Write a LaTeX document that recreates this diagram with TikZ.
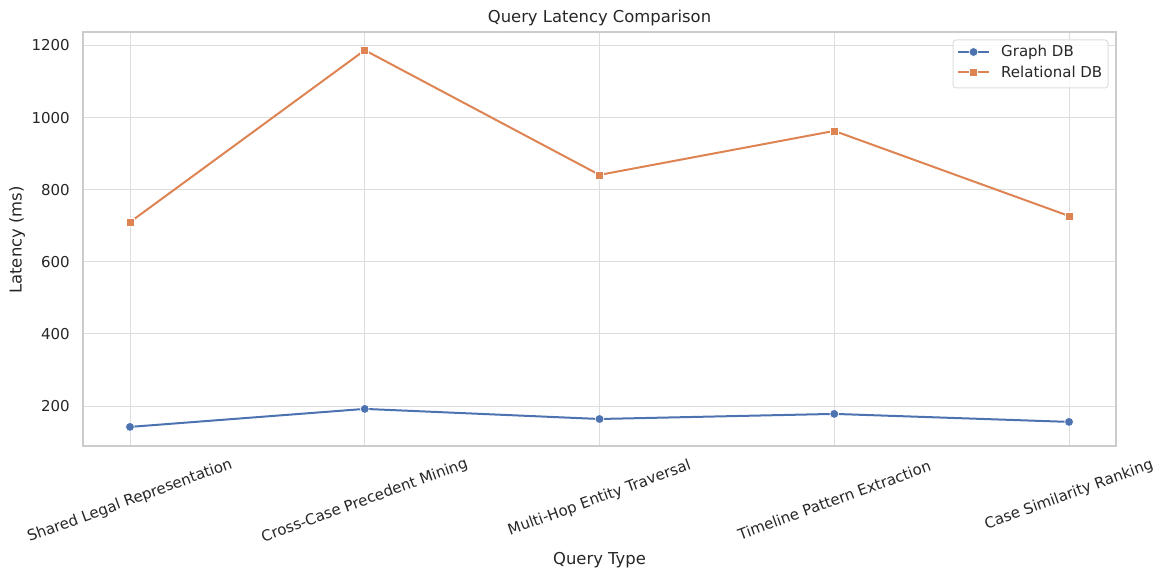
\documentclass[tikz,border=0pt]{standalone}
\usepackage{fontspec}
\setmainfont{DejaVu Sans}
\definecolor{sblue}{HTML}{4C72B0}
\definecolor{sorange}{HTML}{DD8452}
\definecolor{gridc}{HTML}{DDDDDD}
\definecolor{spinec}{HTML}{CCCCCC}
\definecolor{txt}{HTML}{262626}
\tikzset{
  gridline/.style={draw=gridc, line width=1pt},
  spine/.style={draw=spinec, line width=1.4pt},
  ticklab/.style={text=txt, font=\fontsize{15}{17}\selectfont, inner sep=0pt},
  xticklab/.style={ticklab, rotate=20, anchor=center},
  axlab/.style={text=txt, font=\fontsize{16.4}{19}\selectfont, inner sep=0pt},
  gline/.style={draw=sblue, line width=2pt, line join=round},
  rline/.style={draw=sorange, line width=2pt, line join=round},
  gmark/.style={circle, fill=sblue, draw=white, line width=0.6pt, minimum size=8.8pt, inner sep=0pt},
  rmark/.style={rectangle, fill=sorange, draw=white, line width=0.6pt, minimum size=8pt, inner sep=0pt},
  legbox/.style={draw=gridc, fill=white, line width=1pt, rounded corners=3pt, fill opacity=0.8},
}
\begin{document}
\begin{tikzpicture}[x=1pt, y=-1pt]
\useasboundingbox (0,0) rectangle (1159,572);
% grid
\foreach \yy in {45.5,117.6,189.7,261.8,333.9,406.0} \draw[gridline] (83,\yy) -- (1116,\yy);
\foreach \xx in {130,364.75,599.5,834.25,1069} \draw[gridline] (\xx,32) -- (\xx,446);
% spines
\draw[spine] (83,32) rectangle (1116,446);
% y tick labels
\node[ticklab, anchor=east] (y1200) at (70,45.5) {1200};
\node[ticklab, anchor=east] (y1000) at (70,117.6) {1000};
\node[ticklab, anchor=east] (y800) at (70,189.7) {800};
\node[ticklab, anchor=east] (y600) at (70,261.8) {600};
\node[ticklab, anchor=east] (y400) at (70,333.9) {400};
\node[ticklab, anchor=east] (y200) at (70,406.0) {200};
% x tick labels
\node[xticklab] (x1) at (130,501) {Shared Legal Representation};
\node[xticklab] (x2) at (364.75,501) {Cross-Case Precedent Mining};
\node[xticklab] (x3) at (599.5,498.5) {Multi-Hop Entity Traversal};
\node[xticklab] (x4) at (834.25,500) {Timeline Pattern Extraction};
\node[xticklab] (x5) at (1069,495) {Case Similarity Ranking};
% axis labels and title
\node[axlab] (title) at (599.5,18) {Query Latency Comparison};
\node[axlab] (xlabel) at (599.5,560) {Query Type};
\node[axlab, rotate=90] (ylabel) at (17,240) {Latency (ms)};
% data
\coordinate (r1) at (130,222.1);
\coordinate (r2) at (364.75,50.2);
\coordinate (r3) at (599.5,174.9);
\coordinate (r4) at (834.25,130.9);
\coordinate (r5) at (1069,216.0);
\coordinate (g1) at (130,426.9);
\coordinate (g2) at (364.75,408.9);
\coordinate (g3) at (599.5,419.0);
\coordinate (g4) at (834.25,413.9);
\coordinate (g5) at (1069,421.9);
\draw[gline] (g1) -- (g2) -- (g3) -- (g4) -- (g5);
\draw[rline] (r1) -- (r2) -- (r3) -- (r4) -- (r5);
\foreach \p in {g1,g2,g3,g4,g5} \node[gmark] at (\p) {};
\foreach \p in {r1,r2,r3,r4,r5} \node[rmark] at (\p) {};
% legend
\draw[legbox] (953,40) rectangle (1108,88);
\coordinate (la1) at (958,52);
\coordinate (lb1) at (989,52);
\coordinate (la2) at (958,72);
\coordinate (lb2) at (989,72);
\draw[gline] (la1) -- (lb1);
\draw[rline] (la2) -- (lb2);
\node[gmark] (lm1) at (973.5,52) {};
\node[rmark] (lm2) at (973.5,72) {};
\node[ticklab, anchor=west] (lt1) at (1001,52) {Graph DB};
\node[ticklab, anchor=west] (lt2) at (1001,72) {Relational DB};
\end{tikzpicture}
\end{document}
